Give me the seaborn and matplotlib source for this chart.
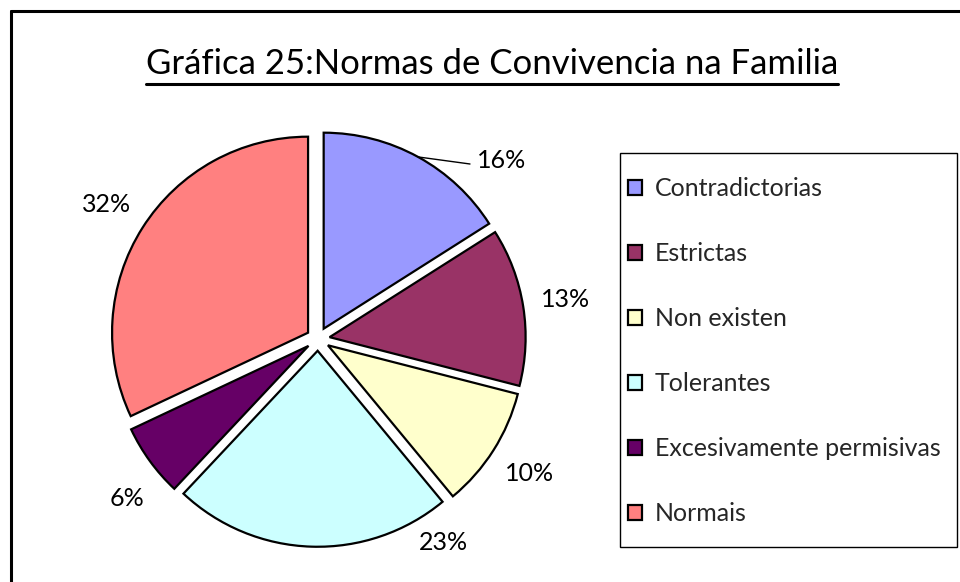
import matplotlib
matplotlib.use("Agg")
import matplotlib.pyplot as plt
from matplotlib.patches import Rectangle
from matplotlib.lines import Line2D
import seaborn as sns
import numpy as np

categories = ["Contradictorias", "Estrictas", "Non existen", "Tolerantes",
              "Excesivamente permisivas", "Normais"]
values = [16, 13, 10, 23, 6, 32]
pct_labels = ["16%", "13%", "10%", "23%", "6%", "32%"]
colors = ["#9999FF", "#993366", "#FFFFCC", "#CCFFFF", "#660066", "#FF8080"]
title = "Gráfica 25:Normas de Convivencia na Familia"

sns.set_style("white")
plt.rcParams['font.family'] = ['Lato', 'DejaVu Sans']

W, H = 960, 582
fig = plt.figure(figsize=(W / 100, H / 100), dpi=100)
fig.patch.set_facecolor("white")

# axes in pixel coordinates
ax = fig.add_axes([0, 0, 1, 1])
palette = sns.color_palette(colors)
cx, cy, R = 318, H - 339, 196
expl = 0.06 * R
wedges, texts = ax.pie(values, labels=pct_labels, colors=palette, startangle=90,
                       counterclock=False, explode=[expl] * len(values),
                       center=(cx, cy), radius=R, labeldistance=1.22,
                       wedgeprops=dict(edgecolor="black", linewidth=1.6),
                       textprops=dict(fontsize=18, color="black"))
ax.set_xlim(0, W)
ax.set_ylim(0, H)
ax.set_aspect("auto")
ax.axis("off")
for t in texts:
    t.set_ha("center")
    t.set_va("center")

# Excel-style moved labels
texts[0].set_position((502, H - 161))
texts[3].set_position((443, H - 542))
texts[4].set_position((127, H - 499))

# leader line for first label
w0 = wedges[0]
thm = np.deg2rad((w0.theta1 + w0.theta2) / 2)
ox, oy = w0.center
p0 = (ox + R * np.cos(thm), oy + R * np.sin(thm))
ax.plot([p0[0], 470], [p0[1], H - 164], color="black", lw=1.0)

# title with underline
ttl = fig.text(492 / W, 1 - 64 / H, title, ha="center", va="center",
               fontsize=25, color="black")
fig.canvas.draw()
bb = ttl.get_window_extent()
fig.add_artist(Line2D([bb.x0 / W, bb.x1 / W], [1 - 84 / H, 1 - 84 / H],
                      transform=fig.transFigure, color="black", lw=2.2))

# frame lines (top and left)
fig.add_artist(Line2D([11 / W, 11 / W], [0, 1 - 11 / H], transform=fig.transFigure,
                      color="black", lw=2.2))
fig.add_artist(Line2D([11 / W, 1], [1 - 11 / H, 1 - 11 / H], transform=fig.transFigure,
                      color="black", lw=2.2))

# legend box
fig.add_artist(Rectangle((620 / W, 1 - 547 / H), 337 / W, 394 / H,
                         transform=fig.transFigure, facecolor="white",
                         edgecolor="black", lw=1.0, zorder=1))
leg = fig.legend(wedges, categories, loc="upper left",
                 bbox_to_anchor=(618 / W, 1 - 167 / H), frameon=False,
                 fontsize=18, handlelength=0.56, handleheight=0.56,
                 handletextpad=0.52, labelspacing=1.68, borderaxespad=0)
for h in leg.legend_handles:
    h.set_linewidth(1.6)
    h.set_edgecolor("black")

fig.savefig("out.png", dpi=100, facecolor="white")
